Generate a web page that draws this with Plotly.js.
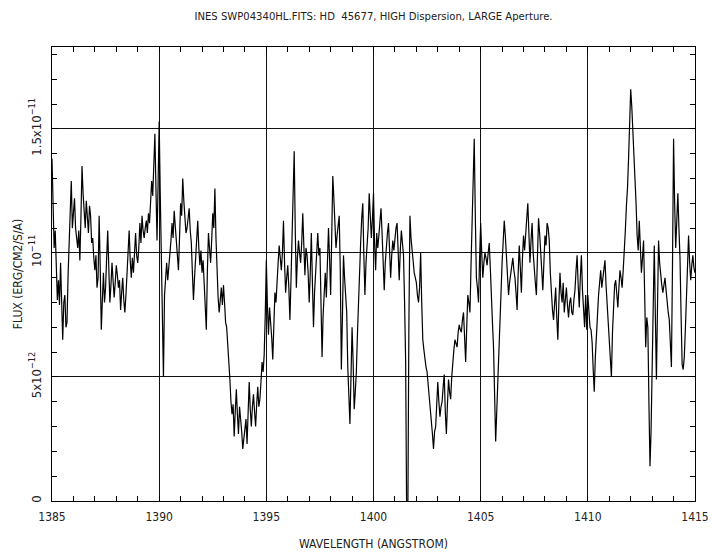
<!DOCTYPE html>
<html>
<head>
<meta charset="utf-8">
<script src="https://cdn.plot.ly/plotly-3.0.1.min.js"></script>
<style>html,body{margin:0;padding:0;background:#fff;}#chart{width:712px;height:553px;}</style>
</head>
<body>
<div id="chart"></div>
<script>
// Wavelength grid: start and step of the spectrum (Angstrom)
const WAVE_START = 1385.0;
const WAVE_STEP = 0.05;

// Flux in units of 1e-12 erg/cm2/s/A
const flux1385 = [13.8,11.2,10.2,10.9,9.3,8.1,8.9,7.9,9.6,8.2,
                  6.5,8.0,8.3,7.0,7.2,9.1,10.5,11.9,12.9,11.0,
                  11.8,12.2,11.0,10.6,10.2,10.9,9.7,11.4,13.5,12.4,
                  11.7,11.0,12.1,11.3,10.8,11.9,11.5,10.4,10.6,9.8,
                  9.3,9.9,8.6,9.0,11.5,9.4,6.9,8.1,9.2,8.0,
                  8.6,9.8,10.9,9.4,8.0,8.7,9.6,8.9,8.2,8.8,
                  9.5,9.1,8.6,8.9,7.7,8.4,9.0,8.1,7.6,8.3,
                  9.2,10.2,10.9,9.7,9.0,9.8,9.2,10.0,10.8,9.9,
                  9.6,10.2,11.2,10.4,11.5,10.9,10.6,11.0,11.3,10.8,
                  11.6,11.2,12.0,12.9,12.3,13.6,14.8,12.6,10.5,12.8];
const flux1390 = [15.3,12.4,10.3,8.2,5.0,8.3,9.0,9.6,8.9,9.4,
                  9.8,10.5,11.2,10.6,11.7,11.1,10.5,10.0,9.3,10.6,
                  12.0,11.5,13.0,12.1,11.3,10.8,11.0,11.4,11.8,10.9,
                  10.4,9.2,8.1,9.0,9.8,10.5,11.3,10.2,9.5,10.1,
                  9.2,9.7,8.8,7.8,6.9,9.3,10.8,10.2,9.6,10.5,
                  11.6,11.0,12.6,10.6,8.9,8.2,7.6,8.0,8.6,7.9,
                  8.7,8.0,7.2,7.0,6.4,5.6,4.9,4.0,3.5,3.9,
                  2.6,3.6,4.5,3.5,2.7,3.8,3.4,2.8,2.1,2.5,
                  2.9,3.3,2.3,3.4,4.8,3.7,3.0,3.8,4.3,3.6,
                  3.0,3.9,4.6,3.8,4.1,4.8,5.6,5.2,5.9,7.5];
const flux1395 = [9.7,7.9,6.7,7.8,7.3,6.6,5.7,7.2,8.4,8.0,
                  9.1,9.6,10.3,9.8,9.3,10.0,11.3,9.6,8.4,9.0,
                  9.5,8.6,7.3,8.9,10.7,12.2,14.1,10.9,8.6,9.8,
                  10.5,10.0,9.6,10.4,11.6,10.3,9.1,10.2,9.9,9.2,
                  8.0,9.2,10.8,8.8,7.0,8.4,9.6,10.0,10.8,9.9,
                  10.2,8.5,5.8,7.5,8.6,9.2,8.2,9.6,11.0,9.8,
                  8.3,10.6,13.1,12.2,11.0,10.2,10.7,11.1,11.5,9.3,
                  5.3,7.4,9.9,9.0,8.3,7.6,5.4,4.0,3.1,5.0,
                  7.0,5.6,3.7,4.4,5.2,6.7,8.2,9.5,10.4,11.4,
                  12.0,9.9,8.3,9.6,10.3,11.0,12.4,11.2,10.6,11.4];
const flux1400 = [12.4,10.4,9.3,10.8,10.2,10.7,11.3,11.8,10.8,9.8,
                  8.5,9.6,10.4,10.8,11.2,10.0,9.0,9.9,10.5,10.1,
                  10.6,11.0,11.2,10.2,8.9,10.1,10.9,10.4,9.9,8.0,
                  5.6,-1.0,-1.0,7.0,11.5,10.6,10.1,9.6,9.2,9.0,
                  8.8,8.3,8.0,8.6,10.0,8.0,6.5,6.1,5.7,5.4,
                  5.2,4.7,4.4,3.9,3.5,2.7,2.1,2.8,3.0,3.9,
                  4.8,4.0,3.4,3.8,4.0,4.6,5.1,3.6,2.7,3.9,
                  4.9,4.4,4.1,5.0,5.8,6.1,6.5,6.3,6.2,6.8,
                  7.1,6.9,6.8,7.3,7.6,6.6,5.6,7.0,8.3,8.0,
                  7.6,9.5,11.7,13.5,14.6,11.5,9.0,8.6,8.0,9.8];
const flux1405 = [11.2,10.0,9.0,9.6,10.0,9.8,9.5,10.0,10.4,9.4,
                  8.0,7.2,6.2,4.0,2.4,3.6,5.0,6.2,7.0,8.4,
                  9.6,10.6,11.3,10.7,10.0,9.2,8.3,8.8,9.1,9.5,
                  9.8,9.3,9.0,8.4,7.7,9.2,10.3,9.4,8.4,9.8,
                  10.7,10.1,11.1,11.4,12.0,10.6,9.6,10.5,11.2,10.0,
                  9.2,8.8,8.3,10.0,11.4,10.8,10.2,9.3,8.5,9.8,
                  10.7,10.3,11.2,11.0,10.5,9.2,8.3,7.7,7.3,7.9,
                  8.6,7.4,6.5,8.0,9.2,8.4,8.0,8.8,7.6,8.1,
                  8.6,7.9,7.4,8.0,8.2,7.6,7.5,8.1,8.5,9.3,
                  9.9,8.7,7.8,9.0,9.9,8.5,7.5,7.0,8.3,6.9];
const flux1410 = [8.3,7.4,7.0,6.9,6.4,5.3,4.4,5.8,6.8,7.6,
                  8.3,8.8,9.3,8.6,8.9,9.2,9.7,8.7,7.9,7.0,
                  6.5,5.8,5.0,6.8,8.2,8.7,8.9,8.4,7.8,8.6,
                  9.3,9.0,8.6,9.3,9.9,10.9,11.9,12.6,13.8,15.2,
                  16.6,15.9,15.0,14.1,13.2,12.0,10.7,10.1,11.3,10.0,
                  9.2,9.8,10.5,8.4,6.2,7.4,7.0,4.0,1.4,2.8,
                  4.9,7.8,10.3,7.5,4.9,7.8,10.5,9.6,9.0,8.7,
                  8.4,8.8,9.0,8.5,7.9,7.6,7.3,6.5,5.4,9.5,
                  14.6,12.0,10.2,11.3,12.4,11.0,9.8,7.5,5.5,5.3,
                  5.8,6.9,8.1,9.4,10.7,9.6,8.9,9.5,9.9,9.4,
                  9.2];
const flux = [].concat(flux1385, flux1390, flux1395, flux1400, flux1405, flux1410);

// Axis ticks
const xTickVals = [1385, 1390, 1395, 1400, 1405, 1410, 1415];
const yTickVals = [0, 5, 10, 15];
const yTickText = ['0', '5x10<sup>\u221212</sup>', '10<sup>\u221211</sup>', '1.5x10<sup>\u221211</sup>'];

const titleText = 'INES SWP04340HL.FITS: HD \u00a045677, HIGH Dispersion, LARGE Aperture.';
const xTitle = 'WAVELENGTH (ANGSTROM)';
const yTitle = 'FLUX (ERG/CM2/S/A)';

const FONT = 'Liberation Sans Narrow, DejaVu Sans Condensed, Liberation Sans, sans-serif';

const trace = {
  type: 'scatter',
  mode: 'lines',
  x0: WAVE_START,
  dx: WAVE_STEP,
  y: flux,
  line: {color: '#000', width: 1.2},
  hoverinfo: 'skip'
};

const layout = {
  width: 712,
  height: 553,
  margin: {l: 52, r: 17, t: 47, b: 52},
  paper_bgcolor: '#fff',
  plot_bgcolor: '#fff',
  showlegend: false,
  font: {family: FONT, size: 12, color: '#222'},
  title: {
    text: titleText,
    font: {family: FONT, size: 11.2, color: '#222'},
    xref: 'paper', x: 0.5, xanchor: 'center',
    yref: 'container', y: 1 - 16 / 553, yanchor: 'middle'
  },
  xaxis: {
    range: [1385, 1415],
    tickvals: xTickVals,
    ticks: 'inside', ticklen: 0,
    ticklabelstandoff: 5,
    showgrid: true, gridcolor: '#111', gridwidth: 1,
    showline: true, linecolor: '#000', linewidth: 1, mirror: 'ticks',
    zeroline: false,
    minor: {dtick: 1, ticks: 'inside', ticklen: 5, tickcolor: '#000', showgrid: false},
    tickfont: {family: FONT, size: 12, color: '#222'},
    title: {text: xTitle, font: {family: FONT, size: 12, color: '#222'}, standoff: 16}
  },
  yaxis: {
    range: [0, 18.3],
    tickvals: yTickVals,
    ticktext: yTickText,
    tickangle: -90,
    ticks: 'inside', ticklen: 0,
    ticklabelstandoff: 5,
    showgrid: true, gridcolor: '#111', gridwidth: 1,
    showline: true, linecolor: '#000', linewidth: 1, mirror: 'ticks',
    zeroline: false,
    minor: {dtick: 1, ticks: 'inside', ticklen: 5, tickcolor: '#000', showgrid: false},
    tickfont: {family: FONT, size: 13, color: '#222'},
    title: {text: yTitle, font: {family: FONT, size: 12, color: '#222'}, standoff: 2}
  }
};

Plotly.newPlot('chart', [trace], layout, {staticPlot: true, displayModeBar: false});
</script>
</body>
</html>
